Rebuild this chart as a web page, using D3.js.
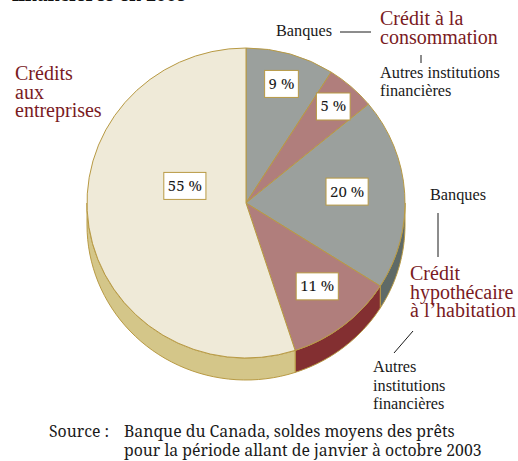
<!DOCTYPE html>
<html>
<head>
<meta charset="utf-8">
<script src="https://cdn.jsdelivr.net/npm/d3@7"></script>
<style>
  html, body { margin: 0; padding: 0; background: #fff; }
  svg { display: block; }
</style>
</head>
<body>
<svg id="chart" width="518" height="461" font-family="Liberation Serif"></svg>
<script>
// slices, clockwise from 12 o'clock
const categories = ['Banques', 'Autres institutions financières', 'Banques', 'Autres institutions financières', 'Crédits aux entreprises'];
const groups = ['Crédit à la consommation', 'Crédit à la consommation', 'Crédit hypothécaire à l’habitation', 'Crédit hypothécaire à l’habitation', 'Crédits aux entreprises'];
const shares = [9, 5, 20, 11, 55];
const shareLabels = ['9 %', '5 %', '20 %', '11 %', '55 %'];
const sourceLines = ['Banque du Canada, soldes moyens des prêts', 'pour la période allant de janvier à octobre 2003'];

// colours per slice (top face / side face)
const topColors = ['#9ba09d', '#b07e7c', '#9ba09d', '#b07e7c', '#efead8'];
const sideColors = ['#5f6a67', '#832f31', '#5f6a67', '#832f31', '#d4c689'];
const edgeColor = '#b89a44';
const red = '#7a1b1f';
const ink = '#1a1a1a';

// geometry of the tilted pie
const cx = 246, cy = 203, rx = 159, ry = 155, depth = 22;
// label placement (radius fraction, angle nudge in degrees)
const labelK = [0.80, 0.83, 0.64, 0.70, 0.40];
const labelNudge = [0, 0, -3, -2, 25];

const svg = d3.select('#chart');

const pie = d3.pie().sort(null).value(d => d);
const arcs = pie(shares);

const pt = (a, yOff = 0) => [cx + rx * Math.sin(a), cy - ry * Math.cos(a) + yOff];

// side walls (only the front half is visible)
const sideG = svg.append('g');
arcs.forEach((d, i) => {
    const a0 = Math.max(d.startAngle, Math.PI / 2);
    const a1 = Math.min(d.endAngle, Math.PI * 3 / 2);
    if (a0 >= a1) return;
    const steps = d3.range(0, 41).map(k => a0 + (a1 - a0) * k / 40);
    const pts = steps.map(a => pt(a)).concat(steps.slice().reverse().map(a => pt(a, depth)));
    sideG.append('path')
        .attr('d', d3.line()(pts) + 'Z')
        .style('fill', sideColors[i])
        .style('stroke', edgeColor)
        .style('stroke-width', 1)
        .style('stroke-linejoin', 'round');
});

// top faces: circular arcs stretched into the ellipse
const arc = d3.arc().innerRadius(0).outerRadius(ry);
svg.append('g')
    .attr('transform', `translate(${cx},${cy}) scale(${rx / ry},1)`)
    .selectAll('path')
    .data(arcs)
    .enter().append('path')
    .attr('d', arc)
    .attr('vector-effect', 'non-scaling-stroke')
    .style('fill', (d, i) => topColors[i])
    .style('stroke', edgeColor)
    .style('stroke-width', 1);

// percentage boxes
const boxes = svg.append('g');
arcs.forEach((d, i) => {
    const a = (d.startAngle + d.endAngle) / 2 + labelNudge[i] * Math.PI / 180;
    const x = cx + labelK[i] * rx * Math.sin(a);
    const y = cy - labelK[i] * ry * Math.cos(a);
    const t = boxes.append('text')
        .attr('x', x).attr('y', y + 5)
        .attr('text-anchor', 'middle')
        .attr('font-family', 'Noto Serif')
        .attr('font-size', 15)
        .style('fill', ink)
        .text(shareLabels[i]);
    const w = t.node().getComputedTextLength() + 8;
    boxes.insert('rect', 'text')
        .attr('x', x - w / 2).attr('y', y - 13.5)
        .attr('width', w).attr('height', 27)
        .style('fill', '#fff')
        .style('stroke', edgeColor)
        .style('stroke-width', 1);
});

// annotations
const ann = svg.append('g');
function lines(x, y, rows, size, color, lh, fam) {
    const t = ann.append('text').attr('x', x).attr('y', y)
        .attr('font-family', fam || 'Liberation Serif')
        .attr('font-size', size).style('fill', color);
    rows.forEach((r, k) => t.append('tspan').attr('x', x).attr('dy', k ? lh : 0).text(r));
    return t;
}
// partly visible title line at the very top
lines(12, 1, ['financières en 2003'], 18, '#111', 0, 'Noto Serif').attr('font-weight', 'bold');

lines(15, 80, ['Crédits', 'aux', 'entreprises'], 20, red, 18.5);
lines(380, 25, ['Crédit à la', 'consommation'], 20, red, 18.5);
lines(410, 280, ['Crédit', 'hypothécaire', 'à l’habitation'], 20, red, 18.5);

lines(276, 36, [categories[0]], 16.3, ink, 0);
lines(380, 78, ['Autres institutions', 'financières'], 16.3, ink, 18);
lines(430, 200, [categories[2]], 16.3, ink, 0);
lines(373, 372, ['Autres', 'institutions', 'financières'], 16.3, ink, 18.5);

const leader = [[[340, 32], [371, 32]], [[421, 55], [421, 63]], [[438, 213], [438, 257]], [[413, 331], [394, 353]]];
leader.forEach(p => ann.append('path').attr('d', d3.line()(p))
    .style('stroke', ink).style('stroke-width', 1).style('fill', 'none'));

lines(49, 437, ['Source :'], 15.8, ink, 0, 'Noto Serif');
lines(124, 437, sourceLines, 15.8, ink, 19, 'Noto Serif');
</script>
</body>
</html>
